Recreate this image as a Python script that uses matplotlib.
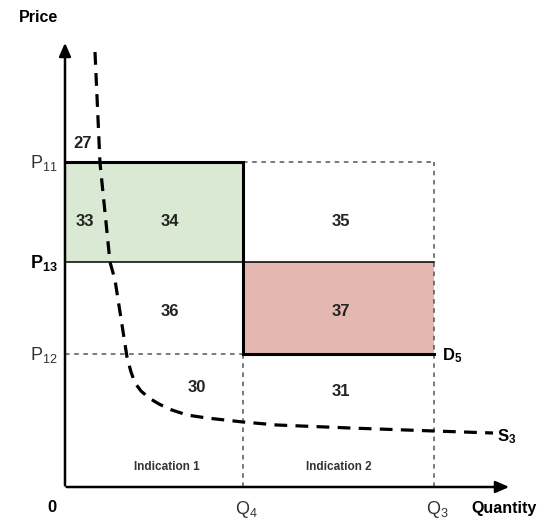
import matplotlib.pyplot as plt
import numpy as np

plt.rcParams['font.family'] = ['Liberation Sans', 'DejaVu Sans']
plt.rcParams['mathtext.default'] = 'regular'

# data (units measured from the origin)
q_levels = {'4': 178, '3': 369}
p_levels = {'12': 133, '13': 225, '11': 325}
supply_q = [30, 35, 45, 50, 62, 66, 70, 76, 84, 94, 104, 122, 142, 178,
            212, 285, 369, 428]
supply_p = [435, 324, 225, 207, 130, 115, 104, 96, 89, 83, 78, 72, 69, 65,
            62, 59, 56, 54]
area_labels = ['27', '33', '34', '35', '36', '37', '30', '31']

green = '#d9e9d3'
red = '#e5b7b1'
dot_col = '#555555'

fig = plt.figure(figsize=(5.49, 5.23), dpi=100)
ax = fig.add_axes([0, 0, 1, 1])
ax.set_xlim(-65, 484)
ax.set_ylim(-36, 487)
ax.axis('off')

q4, q3 = q_levels['4'], q_levels['3']
p12, p13, p11 = p_levels['12'], p_levels['13'], p_levels['11']

# shaded areas
ax.fill_between([0, q4], p13, p11, color=green, lw=0)
ax.fill_between([q4, q3], p12, p13, color=red, lw=0)

# dotted guides
dot = dict(color=dot_col, lw=1.1, ls=(0, (3, 3)))
ax.plot([q4, q3], [p11, p11], **dot)
ax.plot([q3, q3], [0, p11], **dot)
ax.plot([q4, q4], [0, p12], **dot)
ax.plot([0, q4], [p12, p12], **dot)

# thin P13 line
ax.plot([0, q3], [p13, p13], color='black', lw=1.1)

# thick demand step
ax.plot([0, q4, q4, q3], [p11, p11, p12, p12], color='black', lw=2.2,
        solid_joinstyle='miter')

# supply curve
ax.plot(supply_q, supply_p, color='black', lw=2.3, ls=(0, (4, 2.6)))

# axes with arrows
arrow = dict(arrowstyle='-|>,head_length=0.8,head_width=0.35',
             color='black', lw=1.8)
ax.annotate('', xy=(0, 447), xytext=(0, -1.2), arrowprops=arrow)
ax.annotate('', xy=(447, 0), xytext=(-1.2, 0), arrowprops=arrow)

# price labels
for name, p in p_levels.items():
    bold = name == '13'
    ax.text(-7, p - 1, 'P$_{' + name + '}$', fontsize=13,
            fontweight='bold' if bold else 'normal',
            color='black' if bold else '#333333', ha='right', va='center')

# quantity labels
for name, q in q_levels.items():
    ax.text(q + 3, -22, 'Q$_{' + name + '}$', fontsize=13, color='#333333',
            ha='center', va='center')

ax.text(-13, -21, '0', fontsize=12, fontweight='bold', ha='center',
        va='center')
ax.text(-27, 469, 'Price', fontsize=11.5, fontweight='bold', ha='center',
        va='center')
ax.text(439, -21, 'Quantity', fontsize=11.5, fontweight='bold',
        ha='center', va='center')

ax.text(q3 + 8, p12 - 2, 'D$_5$', fontsize=12, fontweight='bold',
        ha='left', va='center')
ax.text(432, 50, 'S$_3$', fontsize=12, fontweight='bold', ha='left',
        va='center')

# area numbers
pos = [(18, 344), (20, 265), (105, 265), (276, 265), (105, 175), (276, 175),
       (132, 100), (276, 95)]
for lab, (x, y) in zip(area_labels, pos):
    ax.text(x, y, lab, fontsize=12, fontweight='bold', ha='center',
            va='center', color='#222222')

ax.text(102, 20, 'Indication 1', fontsize=8.5, fontweight='bold',
        ha='center', va='center', color='#333333')
ax.text(274, 20, 'Indication 2', fontsize=8.5, fontweight='bold',
        ha='center', va='center', color='#333333')

fig.savefig('out.png', dpi=100)
